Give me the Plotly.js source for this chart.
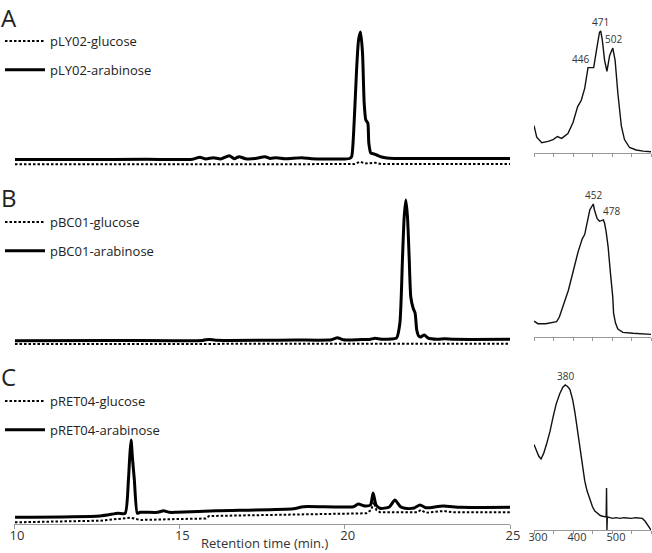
<!DOCTYPE html>
<html>
<head>
<meta charset="utf-8">
<script src="https://cdn.plot.ly/plotly-3.0.1.min.js"></script>
<style>html,body{margin:0;padding:0;background:#fff;}#chart{width:652px;height:553px;}</style>
</head>
<body>
<div id="chart"></div>
<script>
// ---- Chromatogram A (pLY02) ----
const tA_ara = [10.03,12,14,15.4,15.62,15.8,16.03,16.25,16.51,16.66,16.81,17.0,17.3,17.59,17.75,17.92,18.2,18.7,19.0,19.5,20.0,20.15,20.21,20.29,20.36,20.42,20.48,20.54,20.59,20.64,20.70,20.73,20.79,20.89,20.97,21.12,21.27,21.5,22,24,25];
const yA_ara = [10.5,10.5,10.7,10.8,12.7,11,12.3,11,14.3,11.3,13.3,11.3,11.5,13.3,11.5,12.3,11.3,12.3,11.3,11,11,11.5,13.3,50,100,130,138,117,67,50,47,27,17,16,15,13,12,11.5,11.5,11.5,11.5];
const tA_glu = [10.03,15,20.3,20.46,20.62,20.75,20.92,21.1,25];
const yA_glu = [5.7,5.8,5.9,8.3,6.5,6.8,7.3,6,5.9];

// ---- Chromatogram B (pBC01) ----
const tB_ara = [10.03,13,15.7,15.9,16.1,18.5,19.6,19.78,19.95,20.5,20.75,20.92,21.1,21.4,21.57,21.67,21.75,21.8,21.85,21.9,21.95,22.0,22.07,22.13,22.18,22.24,22.30,22.41,22.52,22.8,23.03,23.3,25];
const yB_ara = [9.3,9.5,9.6,10.6,9.7,10,10.2,12.3,10.2,10.4,10.6,11.8,10.8,11,12,27,93,133,150,133,93,53,42,37,20,14,13,15,12,10.8,11.3,10.7,10.7];
const tB_glu = [10.03,15,20,25];
const yB_glu = [6,6.1,6.2,6.3];

// ---- Chromatogram C (pRET04) ----
const tC_ara = [10.03,12.6,13.15,13.36,13.46,13.50,13.54,13.58,13.64,13.73,13.81,14.35,14.52,14.7,14.92,16.13,18.45,18.75,20.26,20.41,20.61,20.78,20.86,20.95,21.07,21.35,21.52,21.68,21.82,22.1,22.28,22.45,22.58,22.98,23.5,25];
const yC_ara = [6.7,8,10.7,10.7,44,67,84,67,44,10.7,11.7,11.7,13.3,11.7,11.7,13.3,15.3,17.3,17.3,20,18,19,31,19,15.7,17,24,17.5,15.7,16,19,16.3,16.3,18,16.7,16.7];
const tC_glu = [10.03,12.6,13.53,13.81,15.0,15.8,15.9,18.45,20.66,20.8,20.88,20.96,21.07,22.2,22.3,22.45,23.0,23.3,25];
const yC_glu = [1.7,3.3,6.3,4,5,5.5,8,9.7,10.7,14,22,14,11.7,11.7,14,11.3,13,11.7,11.7];

// ---- UV-Vis spectra ----
const nmA = [300,307,320,336,349,360,371,387,400,412,421,430,438.5,446,453,461.6,468,471,475,481,487,494,502,508,515,524,532,545,562,580,600];
const absA = [0.225,0.13,0.085,0.095,0.11,0.135,0.12,0.16,0.25,0.38,0.43,0.53,0.70,0.70,0.70,0.87,0.99,1.0,0.93,0.76,0.67,0.80,0.86,0.76,0.49,0.22,0.11,0.045,0.025,0.015,0.01];
const nmB = [300,310,330,350,358,365,375,388,401,413,424,430,437,443,452,455,462,468,478,481,485,490,496,502,504,509,515,528,554,580,600];
const absB = [0.12,0.10,0.10,0.11,0.115,0.15,0.23,0.35,0.50,0.64,0.74,0.77,0.87,0.955,1.0,0.955,0.89,0.87,0.88,0.855,0.79,0.68,0.48,0.30,0.18,0.105,0.06,0.035,0.028,0.022,0.02];
const nmC = [300,305,312,318,325,333,341,349,357,366,374,380,386,392,399,405,411,417,423,430,436,443,450,456,462,470,476,482,485,486,487,488,495,502,510,520,530,540,550,560,570,578,585,590,596,600];
const absC = [0.59,0.55,0.51,0.49,0.53,0.60,0.68,0.78,0.87,0.94,0.985,1.0,0.99,0.97,0.90,0.81,0.69,0.57,0.45,0.34,0.27,0.21,0.16,0.13,0.115,0.10,0.095,0.09,0.09,0.29,0.0,0.09,0.085,0.08,0.085,0.08,0.085,0.08,0.08,0.085,0.08,0.08,0.06,0.04,0.01,0.0];

// ---- text ----
const panelLetters = ['A','B','C'];
const legendNames = [['pLY02-glucose','pLY02-arabinose'],['pBC01-glucose','pBC01-arabinose'],['pRET04-glucose','pRET04-arabinose']];
const peaksA = [446,471,502];
const peaksB = [452,478];
const peaksC = [380];
const xTitle = 'Retention time (min.)';

// ---- geometry helpers (paper coords from pixel positions) ----
const W = 652, H = 553;
const px = v => v / W;
const py = v => 1 - v / H;

const FONT = 'Open Sans, Noto Sans, sans-serif';
const solid = {color:'#000', width:3, shape:'spline', smoothing:0.6};
const dotted = {color:'#000', width:2, dash:'2.5px,2px'};
const specLine = {color:'#111', width:1.4};

const traces = [
  {x:tA_glu, y:yA_glu, xaxis:'x', yaxis:'y', mode:'lines', line:dotted, name:legendNames[0][0], legend:'legend', legendgroup:'a1'},
  {x:tA_ara, y:yA_ara, xaxis:'x', yaxis:'y', mode:'lines', line:solid, name:legendNames[0][1], legend:'legend', legendgroup:'a2'},
  {x:tB_glu, y:yB_glu, xaxis:'x', yaxis:'y2', mode:'lines', line:dotted, name:legendNames[1][0], legend:'legend2', legendgroup:'b1'},
  {x:tB_ara, y:yB_ara, xaxis:'x', yaxis:'y2', mode:'lines', line:solid, name:legendNames[1][1], legend:'legend2', legendgroup:'b2'},
  {x:tC_glu, y:yC_glu, xaxis:'x', yaxis:'y3', mode:'lines', line:dotted, name:legendNames[2][0], legend:'legend3', legendgroup:'c1'},
  {x:tC_ara, y:yC_ara, xaxis:'x', yaxis:'y3', mode:'lines', line:solid, name:legendNames[2][1], legend:'legend3', legendgroup:'c2'},
  {x:nmA, y:absA, xaxis:'x2', yaxis:'y4', mode:'lines', line:specLine, showlegend:false},
  {x:nmB, y:absB, xaxis:'x3', yaxis:'y5', mode:'lines', line:specLine, showlegend:false},
  {x:nmC, y:absC, xaxis:'x4', yaxis:'y6', mode:'lines', line:specLine, showlegend:false}
];

const hiddenY = (dom, rng, anchor) => ({domain:dom, range:rng, anchor:anchor, visible:false, fixedrange:true});
const specX = (anchor, labels) => {
  const a = {
    domain:[px(534), px(651)], range:[300,600], anchor:anchor,
    showline:true, linecolor:'#999', linewidth:1, ticks:'outside', ticklen:3, tickcolor:'#999',
    showgrid:false, zeroline:false,
    dtick: labels ? 100 : 50, tick0:300, showticklabels:!!labels,
    tickfont:{family:FONT, size:11, color:'#333'}
  };
  if (labels) {
    a.minor = {dtick:50, ticks:'outside', ticklen:3, tickcolor:'#999', showgrid:false};
    a.ticklabelstandoff = -6;
    a.ticklabelshift = 4;
  }
  return a;
};

const legendBase = (top) => ({
  x:px(0), y:py(top), xanchor:'left', yanchor:'top', bgcolor:'rgba(0,0,0,0)',
  font:{family:FONT, size:13, color:'#222'}, itemwidth:40, tracegroupgap:9
});

function valAt(xs, ys, x){
  for (let i=0;i<xs.length-1;i++){ if (x>=xs[i] && x<=xs[i+1]){ const f=(x-xs[i])/(xs[i+1]-xs[i]); return ys[i]+f*(ys[i+1]-ys[i]); } }
  return ys[ys.length-1];
}
const annFont = {family:FONT, size:10, color:'#333'};
const letterTop = [0, 180, 359];
const annotations = panelLetters.map((L, i) => ({
  text:L, xref:'paper', yref:'paper', x:px(0), y:py(letterTop[i]), xanchor:'left', yanchor:'top', borderpad:0,
  showarrow:false, font:{family:FONT, size:24, color:'#222'}
}));
annotations.push({text:xTitle, xref:'paper', yref:'paper', x:px(264), y:0, xanchor:'center', yanchor:'bottom', borderpad:0,
  showarrow:false, font:{family:FONT, size:13, color:'#333'}});
const peakAnn = (xa, ya, nm, xs, ys, xanchor, xshift) => ({
  text:String(nm), xref:xa, yref:ya, x:nm, y:valAt(xs, ys, nm), xanchor:xanchor||'center', yanchor:'bottom',
  xshift:xshift||0, yshift:0, showarrow:false, font:annFont
});
annotations.push(peakAnn('x2','y4',peaksA[0],nmA,absA,'right',0));
annotations.push(peakAnn('x2','y4',peaksA[1],nmA,absA,'center',0));
annotations.push(peakAnn('x2','y4',peaksA[2],nmA,absA,'center',1));
annotations.push(peakAnn('x3','y5',peaksB[0],nmB,absB,'center',0));
annotations.push(peakAnn('x3','y5',peaksB[1],nmB,absB,'left',-2));
annotations.push(peakAnn('x4','y6',peaksC[0],nmC,absC,'center',0));

const layout = {
  width:W, height:H, margin:{l:0, r:0, t:0, b:0}, paper_bgcolor:'#fff', plot_bgcolor:'rgba(0,0,0,0)',
  showlegend:true, font:{family:FONT, color:'#222'},
  xaxis:{domain:[px(14), px(510)], range:[10,25], anchor:'y3', showline:true, linecolor:'#999', linewidth:1,
    ticks:'outside', ticklen:4, tickcolor:'#999', tickvals:[10,15,20,25], showgrid:false, zeroline:false,
    tickfont:{family:FONT, size:13, color:'#333'}, automargin:false, ticklabelstandoff:-5, ticklabelshift:3},
  yaxis: hiddenY([py(170), py(20)], [0,150], 'x'),
  yaxis2: hiddenY([py(350), py(190)], [0,160], 'x'),
  yaxis3: hiddenY([py(524), py(424)], [0,100], 'x'),
  xaxis2: specX('y4', false),
  xaxis3: specX('y5', false),
  xaxis4: specX('y6', true),
  yaxis4: hiddenY([py(153), py(153-1.1*122)], [0,1.1], 'x2'),
  yaxis5: hiddenY([py(337), py(337-1.1*133)], [0,1.1], 'x3'),
  yaxis6: hiddenY([py(530), py(530-1.1*145)], [0,1.1], 'x4'),
  legend: legendBase(26),
  legend2: legendBase(207),
  legend3: legendBase(386),
  annotations: annotations
};

Plotly.newPlot('chart', traces, layout, {staticPlot:true, displayModeBar:false});
</script>
</body>
</html>
